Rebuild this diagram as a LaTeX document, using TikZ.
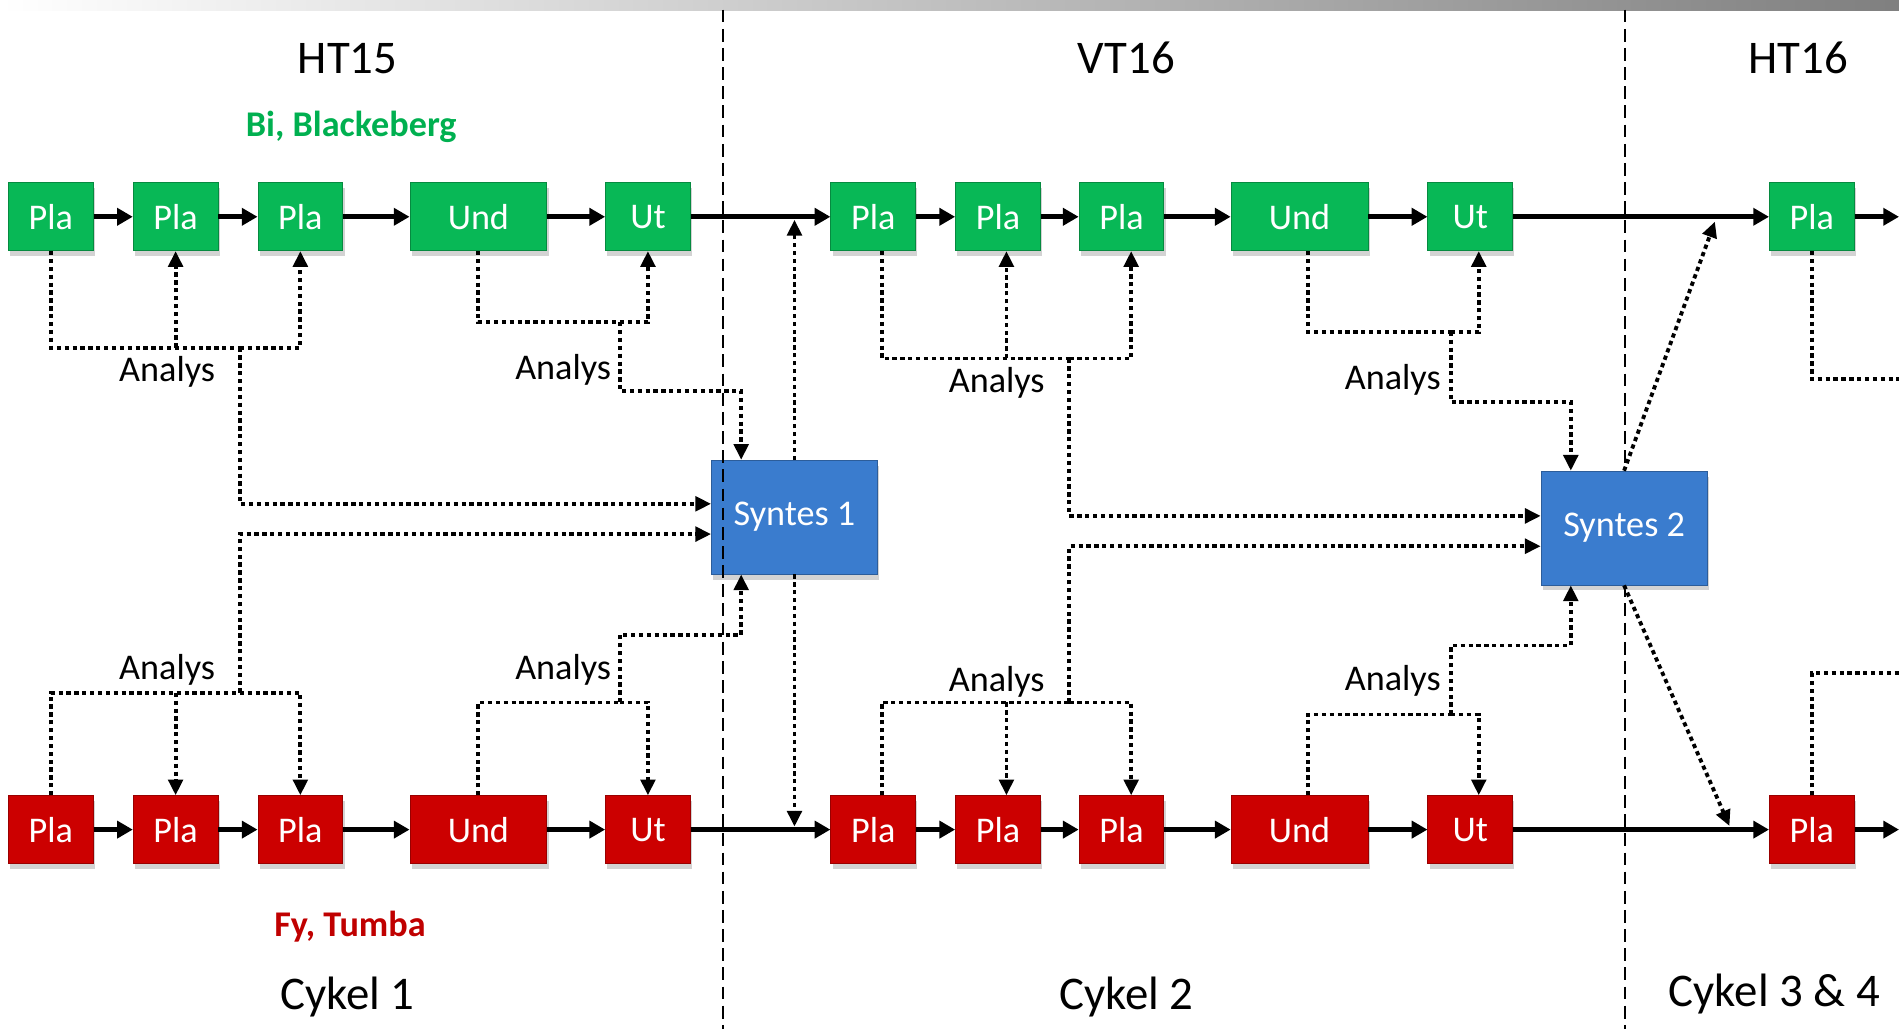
\documentclass[tikz,border=0pt]{standalone}
\usepackage{fontspec}
\setmainfont{Carlito}
\usetikzlibrary{arrows.meta,shadows}
\definecolor{BoxGreen}{RGB}{8,184,86}
\definecolor{BoxRed}{RGB}{204,0,0}
\definecolor{BoxBlue}{RGB}{58,124,206}
\definecolor{SiteGreen}{RGB}{0,176,80}
\definecolor{SiteRed}{RGB}{192,0,0}
\begin{document}
\begin{tikzpicture}[x=0.2mm,y=-0.2mm,box/.style={rectangle,draw=#1!75!black,fill=#1,text=white,minimum height=11.2mm,inner sep=0pt,font=\fontsize{17}{20}\selectfont,drop shadow={opacity=.35,shadow xshift=.3mm,shadow yshift=-.9mm}},syn/.style={box=BoxBlue,minimum width=27.4mm,minimum height=18.8mm},lbl/.style={font=\fontsize{17}{20}\selectfont},site/.style={font=\bfseries\fontsize{17}{20}\selectfont},term/.style={font=\fontsize{22}{26}\selectfont},arrow/.style={-{Triangle[length=2.6mm,width=2.8mm]},line width=2.4pt},dots/.style={line width=1.8pt,dash pattern=on 2pt off 1.7pt},dotarrow/.style={dots,-{Triangle[length=2.6mm,width=2.4mm]}},divider/.style={line width=.8pt,dash pattern=on 6pt off 3pt}]
\useasboundingbox (0,0) rectangle (1568,850);
\shade[left color=white,right color=black!50] (0,0) rectangle (1568,9);
\draw[divider] (1342,8) -- (1342,850);
% rows
\foreach \i/\x/\t/\w in {1/42/Pla/14,2/145/Pla/14,3/248/Pla/14,4/395/Und/22.6,5/535/Ut/14,6/721/Pla/14,7/824/Pla/14,8/926/Pla/14,9/1073/Und/22.6,10/1214/Ut/14,11/1496/Pla/14}{
\node[box=BoxGreen,minimum width=\w mm](t\i) at (\x,179){\t};
\node[box=BoxRed,minimum width=\w mm](b\i) at (\x,685){\t};}
\node[syn](s1) at (656,427){Syntes 1};
\node[syn](s2) at (1341,436){Syntes 2};
\draw[divider] (597,8) -- (597,850);
\foreach \a/\b in {1/2,2/3,3/4,4/5,5/6,6/7,7/8,8/9,9/10,10/11}{\draw[arrow](t\a)--(t\b);\draw[arrow](b\a)--(b\b);}
\coordinate (tend) at (1568,179);
\coordinate (bend) at (1568,685);
\draw[arrow](t11)--(tend);
\draw[arrow](b11)--(bend);
% labels
\node[term](ht15) at (287,48){HT15};
\node[term](vt16) at (930,48){VT16};
\node[term](ht16) at (1485,48){HT16};
\node[site,text=SiteGreen](bi) at (290,105){Bi, Blackeberg};
\node[site,text=SiteRed](fy) at (289,765){Fy, Tumba};
\node[term](cy1) at (287,823){Cykel 1};
\node[term](cy2) at (930,823){Cykel 2};
\node[term](cy3) at (1465,821){Cykel 3 \& 4};
\foreach \n/\x/\y in {1/138/307,2/465/305,3/823/316,4/1150/314,5/138/553,6/465/553,7/823/563,8/1150/562}{\node[lbl](an\n) at (\x,\y){Analys};}
% cykel 1
\coordinate (ta1) at (198,287);
\draw[dots](t1.south)|-(ta1);
\draw[dotarrow](ta1)-|(t3.south);
\draw[dotarrow](t2.south|-ta1)--(t2.south);
\draw[dotarrow](ta1)|-([yshift=2.2mm]s1.west);
\coordinate (ta2) at (512,266);
\draw[dots](t4.south)|-(ta2);
\draw[dotarrow](ta2)-|(t5.south);
\draw[dotarrow](ta2)--++(0,57)-|([xshift=-8.8mm]s1.north);
\draw[dotarrow,shorten >=.5mm](s1.north)--(s1.north|-t5.east);
\coordinate (ba1) at (198,572);
\draw[dots](b1.north)|-(ba1);
\draw[dotarrow](ba1)-|(b3.north);
\draw[dotarrow](b2.north|-ba1)--(b2.north);
\draw[dotarrow](ba1)|-([yshift=-2.8mm]s1.west);
\coordinate (ba2) at (512,580);
\draw[dots](b4.north)|-(ba2);
\draw[dotarrow](ba2)-|(b5.north);
\draw[dotarrow](ba2)--++(0,-56)-|([xshift=-8.8mm]s1.south);
\draw[dotarrow,shorten >=.5mm](s1.south)--(s1.south|-b5.east);
% cykel 2
\coordinate (ta3) at (883,296);
\draw[dots]([xshift=1.4mm]t6.south)|-(ta3);
\draw[dotarrow](ta3)-|([xshift=1.6mm]t8.south);
\draw[dotarrow]([xshift=1.4mm]t7.south|-ta3)--([xshift=1.4mm]t7.south);
\draw[dotarrow](ta3)|-([yshift=2mm]s2.west);
\coordinate (ta4) at (1198,274);
\draw[dots]([xshift=1.4mm]t9.south)|-(ta4);
\draw[dotarrow](ta4)-|([xshift=1.4mm]t10.south);
\draw[dotarrow](ta4)--++(0,58)-|([xshift=-8.8mm]s2.north);
\coordinate (j2) at (1416,183);
\draw[dotarrow](s2.north)--(j2);
\coordinate (ba3) at (883,580);
\draw[dots]([xshift=1.4mm]b6.north)|-(ba3);
\draw[dotarrow](ba3)-|([xshift=1.6mm]b8.north);
\draw[dotarrow]([xshift=1.4mm]b7.north|-ba3)--([xshift=1.4mm]b7.north);
\draw[dotarrow](ba3)|-([yshift=-3mm]s2.west);
\coordinate (ba4) at (1198,590);
\draw[dots]([xshift=1.4mm]b9.north)|-(ba4);
\draw[dotarrow](ba4)-|([xshift=1.4mm]b10.north);
\draw[dotarrow](ba4)--++(0,-57)-|([xshift=-8.8mm]s2.south);
\coordinate (j3) at (1428,682);
\draw[dotarrow](s2.south)--(j3);
% cykel 3
\coordinate (e1) at (1568,313);
\coordinate (e2) at (1568,556);
\draw[dots](t11.south)|-(e1);
\draw[dots](b11.north)|-(e2);
\end{tikzpicture}
\end{document}
